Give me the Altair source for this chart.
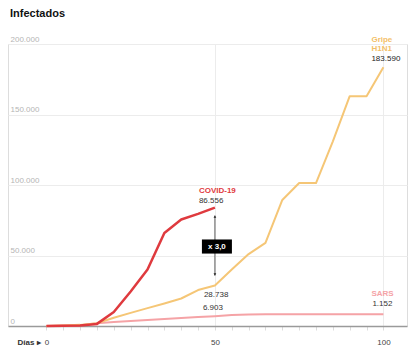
import altair as alt
import pandas as pd

# ---- data ----
days = [0, 5, 10, 15, 20, 25, 30, 35, 40, 45, 50, 55, 60, 65, 70, 75, 80, 85, 90, 95, 100]
covid = [0, 100, 400, 1500, 9900, 24500, 40000, 66000, 75500, 79500, 84000]
h1n1 = [0, 300, 800, 2000, 5800, 9300, 12700, 16000, 19500, 25500, 28738,
        40000, 51000, 59000, 89400, 101400, 101400, 131000, 163000, 163000, 183590]
sars = [0, 200, 500, 1900, 2800, 3500, 4300, 5000, 5700, 6400, 7000,
        7800, 8200, 8300, 8400, 8400, 8400, 8400, 8400, 8400, 8400]
series_names = ["SARS", "Gripe H1N1", "COVID-19"]
series_colors = ["#f5a3a6", "#f5c676", "#df3a3e"]
y_ticks = [0, 50000, 100000, 150000, 200000]
x_ticks = days
label_h1n1 = ["Gripe", "H1N1", "183.590"]
label_covid = ["COVID-19", "86.556"]
label_mid = ["28.738", "6.903"]
label_sars = ["SARS", "1.152"]
ratio_label = "x 3,0"
title_text = "Infectados"

rows = []
for name, vals in zip(series_names, [sars, h1n1, covid]):
    for d, v in zip(days, vals):
        rows.append({"serie": name, "dia": d, "valor": v})
df = pd.DataFrame(rows)

FONT = "Liberation Sans"

x_scale = alt.Scale(domain=[-11.4, 107], nice=False, zero=False)
y_scale = alt.Scale(domain=[0, 200000], nice=False)

x_axis = alt.Axis(
    values=x_ticks,
    labelExpr="datum.value % 50 == 0 ? datum.value : ''",
    labelOverlap=False, labelFlush=False,
    grid=True,
    gridColor="#ececec",
    gridOpacity={"condition": {"test": "datum.value == 50 || datum.value == 100", "value": 1}, "value": 0},
    domain=True, domainColor="#9a9a9a", domainWidth=1.5,
    ticks=True, tickColor="#dcdcdc", tickSize=4,
    labelPadding=8, labelFontSize=8, labelColor="#444444", labelFont=FONT,
    title="Días ▸", titleFont=FONT, titleFontSize=8, titleFontWeight="bold",
    titleColor="#333333", titleAlign="left", titleBaseline="middle",
    titleX=9, titleY=16,
)
y_axis = alt.Axis(
    values=y_ticks,
    labelExpr="replace(format(datum.value, ','), ',', '.')",
    labelOverlap=False,
    grid=True, gridColor="#ececec",
    domain=False, ticks=False, tickSize=0,
    labelAlign="left", labelBaseline="alphabetic", labelPadding=-2, labelOffset=-3,
    labelFontSize=8, labelColor="#b5b5b5", labelFont=FONT,
    title=None,
)


def X(field):
    return alt.X(field, type="quantitative", scale=x_scale, axis=x_axis)


def Y(field):
    return alt.Y(field, type="quantitative", scale=y_scale, axis=y_axis)


base = alt.Chart(df)
lines = []
for name, col, w in zip(series_names, series_colors, [2, 2, 2.5]):
    lines.append(
        base.transform_filter(alt.datum.serie == name)
        .mark_line(color=col, strokeWidth=w, strokeJoin="round")
        .encode(x=X("dia"), y=Y("valor"))
    )

i50 = days.index(50)
end = pd.DataFrame({
    "dia": [50, 100, 100],
    "serie": ["COVID-19", "Gripe H1N1", "SARS"],
    "valor": [covid[i50], h1n1[-1], sars[-1]],
})
arrow = pd.DataFrame({"dia": [50], "a": [covid[i50]], "b": [h1n1[i50]]})
arrow["mid"] = (arrow["a"] + arrow["b"]) / 2
mid_pts = pd.DataFrame({"dia": [50, 50], "valor": [h1n1[i50], sars[i50]]})


def txt(data, text, color, dx, dy, bold=False):
    return alt.Chart(data).mark_text(
        text=text, align="left", baseline="middle", dx=dx, dy=dy,
        fontSize=8, font=FONT, color=color,
        fontWeight="bold" if bold else "normal",
    ).encode(x=X("dia"), y=Y("valor"))


h_end = end[end.serie == "Gripe H1N1"]
c_end = end[end.serie == "COVID-19"]
s_end = end[end.serie == "SARS"]
texts = [
    txt(h_end, label_h1n1[0], "#f3bf68", -12, -27, True),
    txt(h_end, label_h1n1[1], "#f3bf68", -12, -18, True),
    txt(h_end, label_h1n1[2], "#222222", -12, -8),
    txt(c_end, label_covid[0], "#df3a3e", -16, -17, True),
    txt(c_end, label_covid[1], "#333333", -16, -7),
    txt(mid_pts.iloc[[0]], label_mid[0], "#333333", -11, 10),
    txt(mid_pts.iloc[[1]], label_mid[1], "#333333", -12, -8),
    txt(s_end, label_sars[0], "#f5a3a6", -12, -20, True),
    txt(s_end, label_sars[1], "#333333", -11, -10),
]

# chart heading, placed above the plot area
heading = alt.Chart(pd.DataFrame({"t": [title_text]})).mark_text(
    align="left", baseline="alphabetic", fontSize=11, fontWeight="bold",
    font=FONT, color="#111111",
).encode(x=alt.value(2), y=alt.value(-27), text="t:N")

rule = alt.Chart(arrow).mark_rule(color="#333333", strokeWidth=0.8, yOffset=8, y2Offset=-10).encode(
    x=X("dia"), y=Y("a"), y2="b:Q")
head_top = alt.Chart(arrow).mark_point(shape="triangle-up", filled=True, size=7, color="#222222",
                                       opacity=1, yOffset=9).encode(x=X("dia"), y=Y("a"))
head_bot = alt.Chart(arrow).mark_point(shape="triangle-down", filled=True, size=7, color="#222222",
                                       opacity=1, yOffset=-11).encode(x=X("dia"), y=Y("b"))
box = alt.Chart(arrow).mark_point(shape="M-1,-0.47H1V0.47H-1Z", filled=True, size=900,
                                  color="#000000", opacity=1, xOffset=2).encode(
    x=X("dia"), y=Y("mid"))
box_txt = alt.Chart(arrow).mark_text(text=ratio_label, color="#ffffff", fontWeight="bold",
                                     fontSize=8, font=FONT, align="center", baseline="middle", dx=2).encode(
    x=X("dia"), y=Y("mid"))

chart = alt.layer(*lines, rule, head_top, head_bot, box, box_txt, *texts, heading).properties(
    width=399, height=282,
    autosize="none",
    padding={"left": 8, "top": 44, "right": 7, "bottom": 27},
).configure_view(stroke=None).configure(font=FONT, background="white")

chart.save("out.html", embed_options={"renderer": "svg", "actions": False})
